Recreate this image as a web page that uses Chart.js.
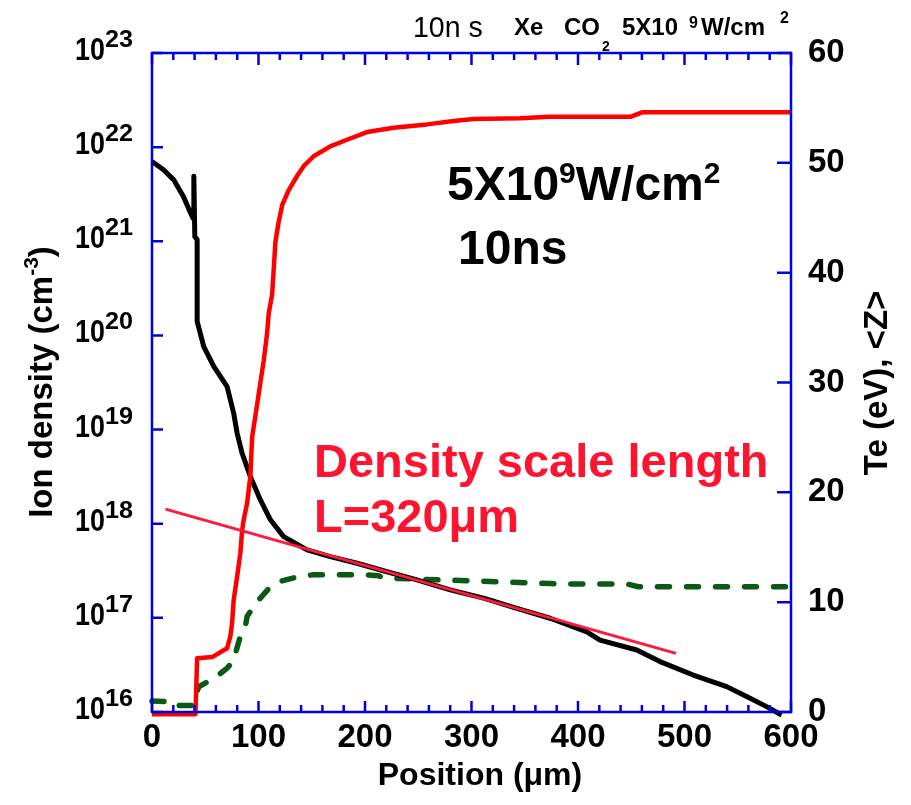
<!DOCTYPE html>
<html lang="en">
<head>
<meta charset="UTF-8">
<title>Ion density and Te profile</title>
<script src="https://cdn.jsdelivr.net/npm/chart.js"></script>
<style>
  body { margin: 0; background: #fff; }
  canvas { display: block; }
</style>
</head>
<body>
<canvas id="profileChart" width="911" height="805"></canvas>
<script>
// ion density (cm^-3) vs position (um), black curve, left log axis
const densPos = [0, 10.8, 20.2, 29.5, 36.1, 38.6, 39.3, 40.2, 42.4, 42.4, 48.6, 58, 70.5, 76.7, 79.9, 84.6,
  92.4, 101.8, 111.2, 123.6, 145.6, 167.4, 192.5, 220.6, 248.8, 280, 311.3, 342.6, 373.8, 408.3,
  420.7, 455.2, 477, 508.2, 539.6, 558.3, 577.1, 591.2];
const densVal = [7.05e21, 5.76e21, 4.52e21, 2.99e21, 2.01e21, 1.75e21, 4.9e21, 1.12e21, 1.04e21, 1.41e20, 7.6e19, 4.68e19, 2.86e19, 1.49e19, 9.2e18, 5.6e18,
  3.16e18, 1.79e18, 1.1e18, 7.3e17, 5.27e17, 4.47e17, 3.8e17, 3.09e17, 2.53e17, 1.98e17, 1.62e17, 1.26e17, 9.9e16, 7.1e16,
  5.8e16, 4.56e16, 3.43e16, 2.47e16, 1.86e16, 1.46e16, 1.14e16, 9.3e15];

// electron temperature Te (eV), red curve, right axis
const tePos = [0, 39.2, 40.8, 42.4, 56.5, 70.5, 73.6, 75.2, 76.7, 79.9, 83, 84.6, 86.1, 89.3, 92.4, 94,
  98.7, 101.8, 104.9, 108.1, 109.6, 112.8, 115.9, 118.9, 122.4, 128.3, 136.2, 142.4, 151.8, 167.4,
  183.1, 201.9, 226.8, 258.2, 283.1, 301.9, 345.7, 372.9, 449.8, 460.1, 600];
const teVal = [-0.2, -0.2, -0.2, 4.9, 5.0, 5.8, 6.9, 8.1, 10.2, 12.3, 14.5, 16.5, 17.5, 19.0, 21.5, 25.0,
  28.0, 30.0, 32.0, 34.5, 36.3, 38.0, 42.8, 44.6, 46.2, 47.5, 48.8, 49.7, 50.6, 51.5,
  52.1, 52.8, 53.2, 53.5, 53.8, 54.0, 54.05, 54.2, 54.2, 54.6, 54.6];

// average ionization <Z>, green dashed curve, right axis
const zPos = [0, 14, 17.3, 37.7, 40.8, 43.9, 55, 62.8, 70.6, 76.8, 80, 83, 87.7, 89.3, 95.5, 100.2,
  111.2, 120.5, 136.2, 151.8, 198.7, 212.8, 217.5, 311.3, 373.8, 383, 445.7, 456.6, 600];
const zVal = [1.0, 0.95, 0.6, 0.6, 1.4, 2.3, 2.9, 3.4, 4.0, 4.7, 5.9, 6.9, 7.8, 8.7, 9.6, 10.2,
  11.4, 11.9, 12.3, 12.5, 12.5, 12.4, 12.2, 11.9, 11.7, 11.66, 11.66, 11.4, 11.4];

// density scale length fit (L = 320 um), thin red line
const fitPos = [12.7, 492];
const fitVal = [1.43e18, 4.2e16];

const xMajor = [0, 100, 200, 300, 400, 500, 600];
const xMinor = [20, 40, 60, 80, 120, 140, 160, 180, 220, 240, 260, 280, 320, 340, 360, 380,
  420, 440, 460, 480, 520, 540, 560, 580];
const densExp = [16, 17, 18, 19, 20, 21, 22, 23];
const teTicks = [0, 10, 20, 30, 40, 50, 60];

function pts(xs, ys) {
  return xs.map((x, i) => ({ x: x, y: ys[i] }));
}

const FONT = "'Liberation Sans', Arial, sans-serif";
const BLUE = '#0000dd';

// draw a run of text pieces (for superscripts), starting at x
function drawRuns(ctx, parts, x, y, color, align) {
  ctx.fillStyle = color;
  ctx.textBaseline = 'alphabetic';
  ctx.textAlign = 'left';
  let total = 0;
  parts.forEach(p => {
    ctx.font = (p.w || 'bold') + ' ' + p.s + 'px ' + FONT;
    p.width = ctx.measureText(p.t).width * (p.sx || 1);
    total += p.width;
  });
  let cx = x;
  if (align === 'center') cx = x - total / 2;
  if (align === 'right') cx = x - total;
  parts.forEach(p => {
    ctx.save();
    ctx.font = (p.w || 'bold') + ' ' + p.s + 'px ' + FONT;
    ctx.translate(cx, y + (p.dy || 0));
    ctx.scale(p.sx || 1, 1);
    ctx.fillText(p.t, 0, 0);
    ctx.restore();
    cx += p.width;
  });
}

const framePlugin = {
  id: 'frame',
  afterDraw(chart) {
    const ctx = chart.ctx;
    const a = chart.chartArea;
    const sx = chart.scales.x, sy = chart.scales.y, sz = chart.scales.y2;
    ctx.save();

    // blue frame and inward ticks
    ctx.strokeStyle = BLUE;
    ctx.lineWidth = 2.5;
    ctx.strokeRect(a.left, a.top, a.right - a.left, a.bottom - a.top);
    ctx.beginPath();
    xMajor.forEach(v => {
      const px = sx.getPixelForValue(v);
      ctx.moveTo(px, a.bottom); ctx.lineTo(px, a.bottom - 11);
      ctx.moveTo(px, a.top); ctx.lineTo(px, a.top + 12);
    });
    xMinor.forEach(v => {
      const px = sx.getPixelForValue(v);
      ctx.moveTo(px, a.bottom); ctx.lineTo(px, a.bottom - 7);
      ctx.moveTo(px, a.top); ctx.lineTo(px, a.top + 7);
    });
    densExp.forEach(e => {
      const py = sy.getPixelForValue(Math.pow(10, e));
      ctx.moveTo(a.left, py); ctx.lineTo(a.left + 11, py);
    });
    teTicks.forEach(v => {
      const py = sz.getPixelForValue(v);
      ctx.moveTo(a.right, py); ctx.lineTo(a.right - 14, py);
    });
    ctx.stroke();

    // tick labels
    xMajor.forEach(v => {
      drawRuns(ctx, [{ t: String(v), s: 33 }], sx.getPixelForValue(v), 747, '#000', 'center');
    });
    densExp.forEach(e => {
      const py = sy.getPixelForValue(Math.pow(10, e));
      drawRuns(ctx, [{ t: '10', s: 32, sx: 0.84, dy: 7 }, { t: String(e), s: 24, sx: 1.05, dy: -6 }], 133, py, '#000', 'right');
    });
    teTicks.forEach(v => {
      drawRuns(ctx, [{ t: String(v), s: 33 }], 808, sz.getPixelForValue(v) + 9, '#000', 'left');
    });

    // axis titles
    drawRuns(ctx, [{ t: 'Position (\u03bcm)', s: 32 }], 480, 785, '#000', 'center');
    ctx.save();
    ctx.translate(52, 382);
    ctx.rotate(-Math.PI / 2);
    drawRuns(ctx, [{ t: 'Ion density (cm', s: 33 }, { t: '-3', s: 21, dy: -14 }, { t: ')', s: 33 }], 0, 0, '#000', 'center');
    ctx.restore();
    ctx.save();
    ctx.translate(887, 383);
    ctx.rotate(-Math.PI / 2);
    drawRuns(ctx, [{ t: 'Te (eV), <Z>', s: 33 }], 0, 0, '#000', 'center');
    ctx.restore();

    // header line
    drawRuns(ctx, [{ t: '10n s', s: 30, w: 'normal', sx: 0.95 }], 413, 37, '#000', 'left');
    drawRuns(ctx, [{ t: 'Xe', s: 24 }], 514, 35, '#000', 'left');
    drawRuns(ctx, [{ t: 'CO', s: 24 }], 564, 35, '#000', 'left');
    drawRuns(ctx, [{ t: '2', s: 14 }], 602, 51, '#000', 'left');
    drawRuns(ctx, [{ t: '5X10', s: 24 }], 622, 35, '#000', 'left');
    drawRuns(ctx, [{ t: '9', s: 16 }], 689, 28, '#000', 'left');
    drawRuns(ctx, [{ t: 'W/cm', s: 24 }], 701, 35, '#000', 'left');
    drawRuns(ctx, [{ t: '2', s: 16 }], 780, 23, '#000', 'left');

    // annotations
    drawRuns(ctx, [{ t: '5X10', s: 48 }, { t: '9', s: 30, dy: -17 }, { t: 'W/cm', s: 48 }, { t: '2', s: 30, dy: -17 }],
      447, 200, '#000', 'left');
    drawRuns(ctx, [{ t: '10ns', s: 48 }], 458, 264, '#000', 'left');
    drawRuns(ctx, [{ t: 'Density scale length', s: 47 }], 314, 477, '#ff1430', 'left');
    drawRuns(ctx, [{ t: 'L=320\u03bcm', s: 47 }], 314, 532, '#ff1430', 'left');

    ctx.restore();
  }
};

new Chart(document.getElementById('profileChart'), {
  type: 'line',
  data: {
    datasets: [
      {
        label: 'Scale length fit',
        data: pts(fitPos, fitVal),
        yAxisID: 'y',
        borderColor: '#ff1a3c',
        borderWidth: 3,
        order: 0
      },
      {
        label: 'Te (eV)',
        data: pts(tePos, teVal),
        yAxisID: 'y2',
        borderColor: '#ff0000',
        borderWidth: 4.5,
        order: 1
      },
      {
        label: 'Ion density',
        data: pts(densPos, densVal),
        yAxisID: 'y',
        borderColor: '#000000',
        borderWidth: 5,
        order: 2
      },
      {
        label: '<Z>',
        data: pts(zPos, zVal),
        yAxisID: 'y2',
        borderColor: '#0a5a16',
        borderWidth: 5.5,
        borderDash: [12, 17],
        borderCapStyle: 'round',
        order: 3
      }
    ]
  },
  options: {
    responsive: false,
    animation: false,
    layout: { padding: { left: 152, right: 120, top: 53, bottom: 93 } },
    elements: {
      point: { radius: 0 },
      line: { tension: 0, fill: false, borderJoinStyle: 'round' }
    },
    datasets: { line: { clip: false } },
    plugins: { legend: { display: false }, tooltip: { enabled: false } },
    scales: {
      x: { type: 'linear', min: 0, max: 600, display: false },
      y: { type: 'logarithmic', min: 1e16, max: 1e23, display: false },
      y2: { type: 'linear', min: 0, max: 60, display: false }
    }
  },
  plugins: [framePlugin]
});
</script>
</body>
</html>
